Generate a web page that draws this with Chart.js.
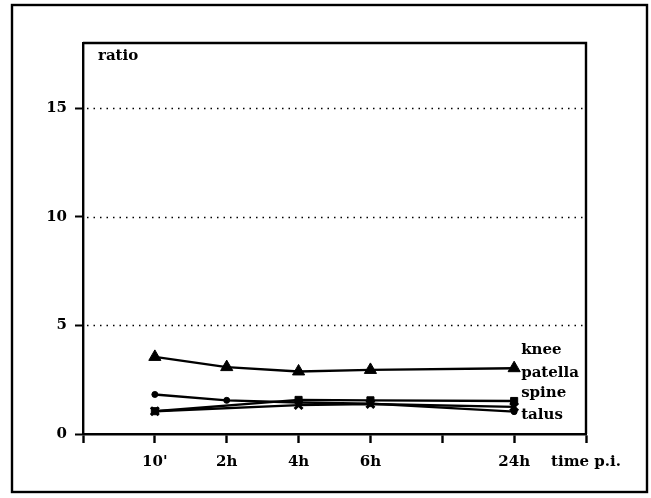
<!DOCTYPE html>
<html>
<head>
<meta charset="utf-8">
<script src="https://cdn.jsdelivr.net/npm/chart.js@4"></script>
<style>
  html, body { margin: 0; padding: 0; background: #fff; }
</style>
</head>
<body>
<canvas id="chart" width="651" height="498"></canvas>
<script>
// === data ===
const xTickValues = [0, 1, 2, 3, 4, 5, 6, 7];
const xTickLabels = ['', "10'", '2h', '4h', '6h', '', '24h', 'time p.i.'];
const yTickValues = [0, 5, 10, 15];
const yMax = 18;

const seriesNames = ['knee', 'patella', 'spine', 'talus'];

const triangleX = [1, 2, 3, 4, 6];
const triangleY = [3.55, 3.08, 2.88, 2.95, 3.03];

const dotX = [1, 2, 3, 4, 6];
const dotY = [1.82, 1.55, 1.45, 1.40, 1.03];

const squareX = [1, 3, 4, 6];
const squareY = [1.05, 1.57, 1.55, 1.52];

const starX = [1, 3, 4, 6];
const starY = [1.05, 1.33, 1.38, 1.25];

// where the series names sit at the right end (y in data units)
const nameY = [3.87, 2.81, 1.89, 0.87];

const FAMILY = '"DejaVu Serif", "Liberation Serif", serif';

function pts(xs, ys){ return xs.map((x, i) => ({ x: x, y: ys[i] })); }

function line(label, data, style, radius, bw){
  return {
    label: label,
    data: data,
    borderColor: '#000',
    backgroundColor: '#000',
    borderWidth: 2.4,
    pointStyle: style,
    pointRadius: radius,
    pointBorderWidth: bw,
    pointBackgroundColor: '#000',
    pointBorderColor: '#000',
    tension: 0,
    fill: false
  };
}

// frame, dotted grid and text labels
const paperPlugin = {
  id: 'paper',
  beforeDatasetsDraw(chart){
    const { ctx, chartArea: a, scales: { y } } = chart;
    ctx.save();
    ctx.strokeStyle = '#000';
    ctx.lineWidth = 1.6;
    ctx.setLineDash([1.5, 5]);
    yTickValues.forEach(v => {
      if (v === 0) return;
      const py = Math.round(y.getPixelForValue(v)) + 0.5;
      ctx.beginPath();
      ctx.moveTo(a.left + 4, py);
      ctx.lineTo(a.right - 2, py);
      ctx.stroke();
    });
    ctx.restore();
  },
  afterDraw(chart){
    const { ctx, chartArea: a, scales: { x, y } } = chart;
    ctx.save();
    ctx.strokeStyle = '#000';
    ctx.lineWidth = 2.4;
    // outer border
    ctx.strokeRect(12, 5, 635, 487);
    // top and right of plot box
    ctx.beginPath();
    ctx.moveTo(a.left, a.top);
    ctx.lineTo(a.right, a.top);
    ctx.lineTo(a.right, a.bottom);
    ctx.stroke();

    ctx.fillStyle = '#000';
    ctx.font = 'bold 15px ' + FAMILY;
    ctx.textBaseline = 'middle';
    ctx.textAlign = 'left';
    ctx.fillText('ratio', a.left + 15, a.top + 13);

    const lx = x.getPixelForValue(6) + 7;
    seriesNames.forEach((n, i) => {
      ctx.fillText(n, lx, y.getPixelForValue(nameY[i]));
    });
    ctx.restore();
  }
};

const ctx = document.getElementById('chart');
const chart = new Chart(ctx, {
  type: 'line',
  data: {
    datasets: [
      line(seriesNames[0], pts(triangleX, triangleY), 'triangle', 7, 1),
      line(seriesNames[1], pts(dotX, dotY), 'circle', 3, 1),
      line(seriesNames[2], pts(squareX, squareY), 'rect', 5, 1),
      line(seriesNames[3], pts(starX, starY), 'crossRot', 5.5, 3)
    ]
  },
  options: {
    responsive: false,
    animation: false,
    devicePixelRatio: 1,
    layout: { padding: { top: 43, right: 65, bottom: 0, left: 0 } },
    plugins: { legend: { display: false }, tooltip: { enabled: false } },
    scales: {
      x: {
        type: 'linear',
        min: 0,
        max: 7,
        afterBuildTicks: s => { s.ticks = xTickValues.map(v => ({ value: v })); },
        afterFit: s => { s.height = 64; },
        ticks: {
          autoSkip: false,
          maxRotation: 0,
          padding: 10,
          color: '#000',
          font: { family: FAMILY, size: 15, weight: 'bold' },
          callback: (v, i) => xTickLabels[i]
        },
        grid: { drawOnChartArea: false, tickLength: 9, tickColor: '#000', tickWidth: 2.4 },
        border: { color: '#000', width: 2.4 }
      },
      y: {
        min: 0,
        max: yMax,
        afterBuildTicks: s => { s.ticks = yTickValues.map(v => ({ value: v })); },
        afterFit: s => { s.width = 83; },
        ticks: {
          padding: 8,
          color: '#000',
          font: { family: FAMILY, size: 15, weight: 'bold' }
        },
        grid: { drawOnChartArea: false, tickLength: 8, tickColor: '#000', tickWidth: 2 },
        border: { color: '#000', width: 2.4 }
      }
    }
  },
  plugins: [paperPlugin]
});
</script>
</body>
</html>
